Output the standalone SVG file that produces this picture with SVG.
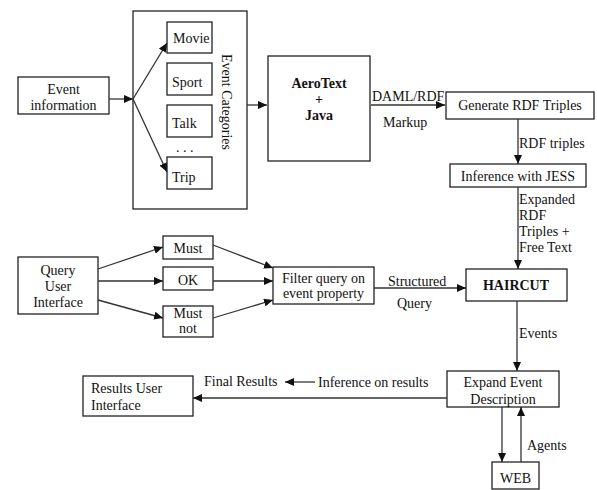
<svg xmlns="http://www.w3.org/2000/svg" width="597" height="490" viewBox="0 0 597 490" font-family="'Liberation Serif', 'DejaVu Serif', serif">
<style>
text{font-family:'Liberation Serif','DejaVu Serif',serif;font-size:14px;fill:#111}
.c{text-anchor:middle}
.b{font-weight:bold}
.box{fill:#fff;stroke:#222;stroke-width:1.3}
.ln{fill:none;stroke:#333;stroke-width:1.3}
</style>
<defs>
<marker id="ah" markerUnits="userSpaceOnUse" markerWidth="10" markerHeight="8" refX="9" refY="4" orient="auto">
<path d="M0,0 L9,4 L0,8 Z" fill="#111"/>
</marker>
<clipPath id="clipExp"><rect x="447" y="371" width="112" height="36"/></clipPath>
</defs>

<g id="event-categories">
<rect class="box" x="133" y="11" width="114" height="198"/>
<text transform="translate(222,102) rotate(90)" class="c">Event Categories</text>
</g>
<g id="event-info">
<rect class="box" x="18" y="77" width="91" height="37"/>
<text class="c" x="63.5" y="94">Event</text>
<text class="c" x="63.5" y="110">information</text>
</g>
<g id="movie"><rect class="box" x="167" y="22" width="45" height="31"/><text x="173" y="43">Movie</text></g>
<g id="sport"><rect class="box" x="167" y="63" width="45" height="32"/><text x="172" y="87">Sport</text></g>
<g id="talk"><rect class="box" x="167" y="105" width="45" height="32"/><text x="172" y="128">Talk</text></g>
<text x="176" y="152">. . .</text>
<g id="trip"><rect class="box" x="167" y="157" width="45" height="32"/><text x="172" y="182">Trip</text></g>

<g id="aerotext">
<rect class="box" x="268" y="56" width="102" height="105"/>
<text class="c b" x="319" y="88">AeroText</text>
<text class="c b" x="319" y="104">+</text>
<text class="c b" x="319" y="120">Java</text>
</g>
<g id="generate">
<rect class="box" x="446" y="92" width="148" height="27"/>
<text class="c" x="520" y="110">Generate RDF Triples</text>
</g>
<g id="jess">
<rect class="box" x="450" y="164" width="136" height="23"/>
<text class="c" x="518" y="181">Inference with JESS</text>
</g>
<g id="haircut">
<rect class="box" x="466" y="269" width="101" height="32"/>
<text class="c b" x="516" y="290">HAIRCUT</text>
</g>
<g id="filter">
<rect class="box" x="273" y="267" width="101" height="37"/>
<text class="c" x="323.5" y="283">Filter query on</text>
<text class="c" x="323.5" y="298">event property</text>
</g>
<g id="query-ui">
<rect class="box" x="18" y="257" width="80" height="57"/>
<text class="c" x="58" y="275">Query</text>
<text class="c" x="58" y="291">User</text>
<text class="c" x="58" y="307">Interface</text>
</g>
<g id="must"><rect class="box" x="163" y="236" width="50" height="23"/><text class="c" x="188" y="253">Must</text></g>
<g id="ok"><rect class="box" x="163" y="267" width="50" height="23"/><text class="c" x="188" y="285">OK</text></g>
<g id="must-not"><rect class="box" x="163" y="306" width="50" height="31"/><text class="c" x="188" y="318">Must</text><text class="c" x="188" y="333">not</text></g>
<g id="expand">
<rect class="box" x="447" y="371" width="112" height="36"/>
<g clip-path="url(#clipExp)">
<text class="c" x="503" y="387">Expand Event</text>
<text class="c" x="503" y="404">Description</text>
</g>
</g>
<g id="web">
<rect class="box" x="492" y="462" width="47" height="27"/>
<text class="c" x="515.5" y="483">WEB</text>
</g>
<g id="results-ui">
<rect class="box" x="83" y="376" width="110" height="40"/>
<text x="91" y="393">Results User</text>
<text x="91" y="410">Interface</text>
</g>

<g id="connectors">
<line class="ln" x1="109" y1="99" x2="133" y2="99" marker-end="url(#ah)"/>
<line class="ln" x1="133" y1="99" x2="167" y2="43" marker-end="url(#ah)"/>
<line class="ln" x1="133" y1="99" x2="167" y2="172" marker-end="url(#ah)"/>
<line class="ln" x1="247" y1="105" x2="267" y2="105" marker-end="url(#ah)"/>
<line class="ln" x1="371" y1="105" x2="445" y2="105" marker-end="url(#ah)"/>
<text x="372" y="101">DAML/RDF</text>
<text x="383" y="127">Markup</text>
<line class="ln" x1="518" y1="119" x2="518" y2="164" marker-end="url(#ah)"/>
<text x="519" y="148">RDF triples</text>
<line class="ln" x1="518" y1="187" x2="518" y2="269" marker-end="url(#ah)"/>
<text x="519" y="204">Expanded</text>
<text x="519" y="220">RDF</text>
<text x="519" y="236">Triples +</text>
<text x="519" y="252">Free Text</text>
<line class="ln" x1="374" y1="288" x2="466" y2="288" marker-end="url(#ah)"/>
<text x="388" y="286">Structured</text>
<text x="397" y="308">Query</text>
<line class="ln" x1="517" y1="301" x2="517" y2="371" marker-end="url(#ah)"/>
<text x="519" y="338">Events</text>
<line class="ln" x1="502" y1="407" x2="502" y2="462" marker-end="url(#ah)"/>
<line class="ln" x1="521" y1="462" x2="521" y2="407" marker-end="url(#ah)"/>
<text x="527" y="450">Agents</text>
<line class="ln" x1="447" y1="398" x2="193" y2="398" marker-end="url(#ah)"/>
<line class="ln" x1="315" y1="382" x2="285" y2="382" marker-end="url(#ah)"/>
<text x="318" y="387">Inference on results</text>
<text x="204" y="386">Final Results</text>
<line class="ln" x1="98" y1="269" x2="163" y2="247" marker-end="url(#ah)"/>
<line class="ln" x1="98" y1="281" x2="163" y2="281" marker-end="url(#ah)"/>
<line class="ln" x1="98" y1="300" x2="163" y2="318" marker-end="url(#ah)"/>
<line class="ln" x1="213" y1="245" x2="273" y2="268" marker-end="url(#ah)"/>
<line class="ln" x1="213" y1="281" x2="273" y2="281" marker-end="url(#ah)"/>
<line class="ln" x1="213" y1="318" x2="273" y2="300" marker-end="url(#ah)"/>
</g>
</svg>
